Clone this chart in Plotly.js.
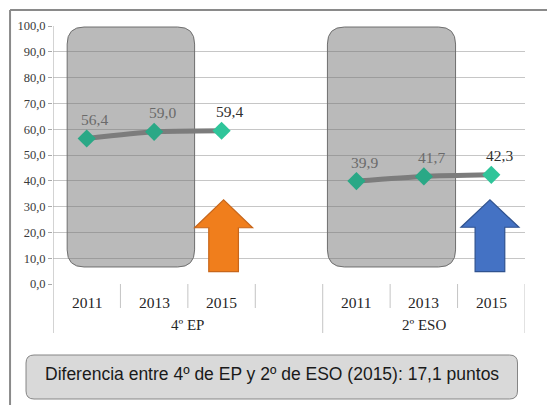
<!DOCTYPE html>
<html>
<head>
<meta charset="utf-8">
<script src="https://cdn.plot.ly/plotly-3.0.1.min.js"></script>
<style>html,body{margin:0;padding:0;background:#fff;}#chart{width:547px;height:405px;}</style>
</head>
<body>
<div id="chart"></div>
<script>
// ---- data ----
const categories = ['2011', '2013', '2015', '', '2011', '2013', '2015'];
const groupNames = ['4º EP', '2º ESO'];
const groupCenters = [1.5, 5];
const values = [56.4, 59.0, 59.4, null, 39.9, 41.7, 42.3];
const yTicks = [0, 10, 20, 30, 40, 50, 60, 70, 80, 90, 100];
const noteText = 'Diferencia entre 4º de EP y 2º de ESO (2015): 17,1 puntos';

const xIdx = categories.map((c, i) => i);
const insideBox = [true, true, false, false, true, true, false];

function fmt(v) { return v.toFixed(1).replace('.', ','); }

function roundRect(x0, x1, y0, y1, rx, ry) {
  return `M ${x0 + rx},${y1} L ${x1 - rx},${y1} Q ${x1},${y1} ${x1},${y1 - ry} ` +
         `L ${x1},${y0 + ry} Q ${x1},${y0} ${x1 - rx},${y0} L ${x0 + rx},${y0} ` +
         `Q ${x0},${y0} ${x0},${y0 + ry} L ${x0},${y1 - ry} Q ${x0},${y1} ${x0 + rx},${y1} Z`;
}
function arrow(cx, yb, yh, yt, sw, hw) {
  return `M ${cx - sw},${yb} L ${cx + sw},${yb} L ${cx + sw},${yh} L ${cx + hw},${yh} ` +
         `L ${cx},${yt} L ${cx - hw},${yh} L ${cx - sw},${yh} Z`;
}

const trace = {
  x: xIdx,
  y: values,
  type: 'scatter',
  mode: 'lines+markers',
  connectgaps: false,
  line: { color: '#7c7c7c', width: 5, shape: 'spline', smoothing: 0.6 },
  marker: {
    symbol: 'diamond', size: 14,
    color: insideBox.map(b => b ? '#2aa886' : '#2fc59a'),
    line: { width: 0 }
  },
  hoverinfo: 'skip'
};

const shapes = [];
// gray rounded boxes
[[-0.29, 1.60], [3.57, 5.47]].forEach(([a, b]) => {
  shapes.push({
    type: 'path', xref: 'x', yref: 'y', layer: 'between',
    path: roundRect(a, b, 6.6, 99.6, 0.25, 6.6),
    fillcolor: 'rgba(110,110,110,0.48)',
    line: { color: '#6f6f6f', width: 1 }
  });
});
// arrows
shapes.push({
  type: 'path', xref: 'x', yref: 'y', layer: 'above',
  path: arrow(2.03, 4.8, 21.8, 32.6, 0.22, 0.43),
  fillcolor: '#f07e1c', line: { color: '#c8661a', width: 1.2 }
});
shapes.push({
  type: 'path', xref: 'x', yref: 'y', layer: 'above',
  path: arrow(5.98, 4.8, 22.0, 32.6, 0.22, 0.43),
  fillcolor: '#4472c4', line: { color: '#2f528f', width: 1.2 }
});
// category separators
const plotH = 258;
[0.5, 1.5, 2.5, 4.5, 5.5].forEach(x => {
  shapes.push({ type: 'line', xref: 'x', yref: 'paper', x0: x, x1: x, y0: 0, y1: -24 / plotH,
    line: { color: '#c4c4c4', width: 1 } });
});
[-0.5, 3.5, 6.5].forEach(x => {
  shapes.push({ type: 'line', xref: 'x', yref: 'paper', x0: x, x1: x, y0: x === -0.5 ? 1 : 0, y1: -49 / plotH,
    line: { color: x === -0.5 ? '#a8a8a8' : '#c4c4c4', width: 1 } });
});
// outer frame
shapes.push({ type: 'line', xref: 'paper', yref: 'paper', x0: (10 - 53) / 472.5, x1: (548 - 53) / 472.5,
  y0: (284 - 10) / plotH, y1: (284 - 10) / plotH, line: { color: '#8a8a8a', width: 2 } });
shapes.push({ type: 'line', xref: 'paper', yref: 'paper', x0: (10 - 53) / 472.5, x1: (10 - 53) / 472.5,
  y0: (284 - 10) / plotH, y1: (284 - 406) / plotH, line: { color: '#8a8a8a', width: 2 } });
// note box
const px = v => (v - 53) / 472.5, py = v => (284 - v) / plotH;
shapes.push({
  type: 'path', xref: 'paper', yref: 'paper', layer: 'above',
  path: (() => {
    const x0 = px(26), x1 = px(518), y0 = py(399), y1 = py(355), rx = 8 / 472.5, ry = 8 / plotH;
    return roundRect(x0, x1, y0, y1, rx, ry);
  })(),
  fillcolor: '#d9d9d9', line: { color: '#858585', width: 1 }
});

const annotations = [];
values.forEach((v, i) => {
  if (v === null) return;
  annotations.push({
    x: xIdx[i], y: v, xref: 'x', yref: 'y', text: fmt(v), showarrow: false,
    xshift: 8, yshift: 19, xanchor: 'center', yanchor: 'middle',
    font: { family: 'Liberation Serif, Times New Roman, serif', size: 15.5,
            color: insideBox[i] ? '#6a6a6a' : '#303030' }
  });
});
categories.forEach((c, i) => {
  if (!c) return;
  annotations.push({
    x: xIdx[i], y: 0, xref: 'x', yref: 'paper', text: c, showarrow: false,
    yshift: -18, yanchor: 'middle',
    font: { family: 'Liberation Serif, Times New Roman, serif', size: 15.5, color: '#262626' }
  });
});
groupNames.forEach((g, i) => {
  annotations.push({
    x: groupCenters[i], y: 0, xref: 'x', yref: 'paper', text: g, showarrow: false,
    yshift: -41, yanchor: 'middle',
    font: { family: 'Liberation Serif, Times New Roman, serif', size: 15, color: '#262626' }
  });
});
annotations.push({
  x: (px(26) + px(518)) / 2, y: py(374), xref: 'paper', yref: 'paper', text: noteText,
  showarrow: false, xanchor: 'center', yanchor: 'middle',
  font: { family: 'Liberation Sans, Arial, sans-serif', size: 17.5, color: '#1a1a1a' }
});

const layout = {
  width: 547, height: 405,
  margin: { l: 53, r: 21.5, t: 26, b: 121, pad: 0 },
  paper_bgcolor: '#ffffff', plot_bgcolor: '#ffffff',
  separators: ',.',
  showlegend: false,
  xaxis: {
    range: [-0.5, 6.5], showgrid: false, zeroline: false, showline: false,
    showticklabels: false, ticks: '', fixedrange: true
  },
  yaxis: {
    range: [0, 100], tickvals: yTicks, tickformat: '.1f',
    showgrid: true, gridcolor: '#c6c6c6', gridwidth: 1, zeroline: false,
    showline: false, ticks: 'outside', ticklen: 4, tickcolor: '#a8a8a8',
    tickfont: { family: 'Liberation Serif, Times New Roman, serif', size: 12.5, color: '#3a3a3a' },
    fixedrange: true
  },
  shapes: shapes,
  annotations: annotations
};

Plotly.newPlot('chart', [trace], layout, { displayModeBar: false, staticPlot: true });
</script>
</body>
</html>
